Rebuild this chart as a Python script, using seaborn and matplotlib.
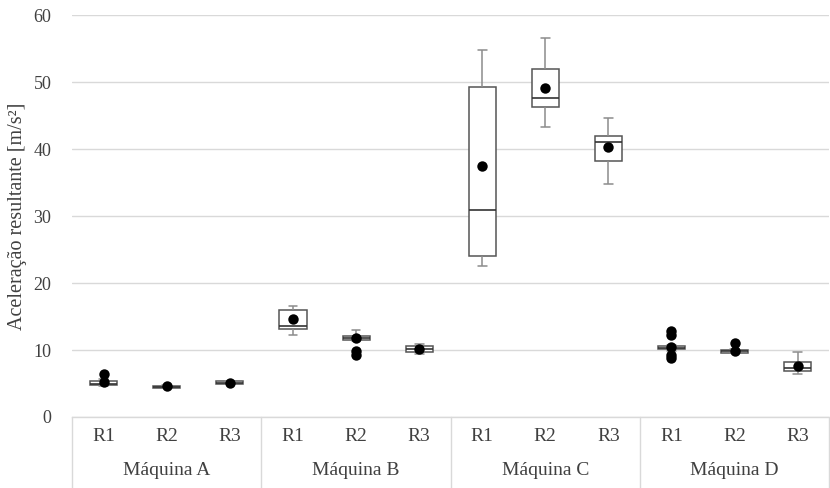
import numpy as np
import pandas as pd
import seaborn as sns
import matplotlib.pyplot as plt

# categories
machines = ['Máquina A', 'Máquina B', 'Máquina C', 'Máquina D']
runs = ['R1', 'R2', 'R3']

# five-number summary of each box (m/s²), order A-R1 ... D-R3
whisker_low = [4.6, 4.3, 4.9, 12.2, 11.3, 9.4, 22.6, 43.3, 34.8, 9.9, 9.5, 6.4]
q1 = [4.8, 4.4, 5.0, 13.2, 11.5, 9.7, 24.1, 46.3, 38.2, 10.1, 9.6, 6.8]
median = [5.0, 4.5, 5.1, 13.6, 11.8, 10.1, 30.9, 47.7, 41.0, 10.3, 9.8, 7.3]
q3 = [5.4, 4.7, 5.3, 16.0, 12.1, 10.6, 49.2, 51.9, 42.0, 10.6, 10.0, 8.2]
whisker_high = [5.6, 4.8, 5.4, 16.6, 13.0, 10.9, 54.8, 56.6, 44.6, 10.8, 10.1, 9.7]
means = [5.2, 4.6, 5.1, 14.7, 11.8, 10.1, 37.5, 49.1, 40.3, 10.4, 9.9, 7.6]

# points outside the whiskers
outlier_group = ['Máquina A|R1', 'Máquina B|R2', 'Máquina B|R2',
                 'Máquina D|R1', 'Máquina D|R1', 'Máquina D|R1', 'Máquina D|R1',
                 'Máquina D|R2']
outlier_value = [6.4, 9.3, 9.8, 12.8, 12.2, 9.3, 8.8, 11.0]

keys = [m + '|' + r for m in machines for r in runs]

# five values per group -> quartiles land exactly on q1 / median / q3
rows = []
for i, k in enumerate(keys):
    for v in (whisker_low[i], q1[i], median[i], q3[i], whisker_high[i]):
        rows.append((k, v))
box_df = pd.DataFrame(rows, columns=['grupo', 'valor'])

sns.set_style('white')
plt.rcParams['font.family'] = ['Liberation Serif', 'DejaVu Serif']
text_color = '#404040'

fig, ax = plt.subplots(figsize=(8.3, 4.88), dpi=100)
fig.subplots_adjust(left=0.087, right=0.999, top=0.969, bottom=0.1455)

ax.yaxis.grid(True, color='#d9d9d9', linewidth=1)
ax.set_axisbelow(True)

sns.boxplot(data=box_df, x='grupo', y='valor', order=keys, whis=(0, 100),
            width=0.43, color='white', linecolor='#555555', linewidth=1.1,
            showfliers=False, capwidths=0.14,
            whiskerprops=dict(color='#8c8c8c', linewidth=1.1),
            capprops=dict(color='#8c8c8c', linewidth=1.1),
            medianprops=dict(color='#333333', linewidth=1.2), ax=ax)

sns.stripplot(x=keys, y=means, order=keys, jitter=False, color='black',
              size=7.5, zorder=4, ax=ax)
sns.stripplot(x=outlier_group, y=outlier_value, order=keys, jitter=False,
              color='black', size=7.5, zorder=4, ax=ax)

ax.set_xlim(-0.5, len(keys) - 0.5)
ax.set_ylim(0, 60)
ax.set_yticks(np.arange(0, 61, 10))
ax.set_xticks(range(len(keys)))
ax.set_xticklabels(runs * len(machines))
ax.tick_params(axis='both', length=0, labelcolor=text_color)
ax.tick_params(axis='y', pad=15, labelsize=13)
ax.tick_params(axis='x', pad=8, labelsize=14)
ax.set_xlabel('')
ax.set_ylabel('Aceleração resultante [m/s²]', fontsize=14.5, color=text_color)
ax.yaxis.set_label_coords(-0.06, 0.5)

for s in ['left', 'right', 'top']:
    ax.spines[s].set_visible(False)
ax.spines['bottom'].set_color('#d9d9d9')
ax.spines['bottom'].set_linewidth(1)

# two-level category axis: separators and machine names
trans = ax.get_xaxis_transform()
for j in range(len(machines) + 1):
    ax.plot([j * 3 - 0.5, j * 3 - 0.5], [0, -0.18], transform=trans,
            color='#d9d9d9', linewidth=1, clip_on=False)
for j, m in enumerate(machines):
    ax.text(j * 3 + 1, -0.132, m, transform=trans, ha='center', va='center',
            fontsize=14, color=text_color)

fig.savefig('out.png', dpi=100)
